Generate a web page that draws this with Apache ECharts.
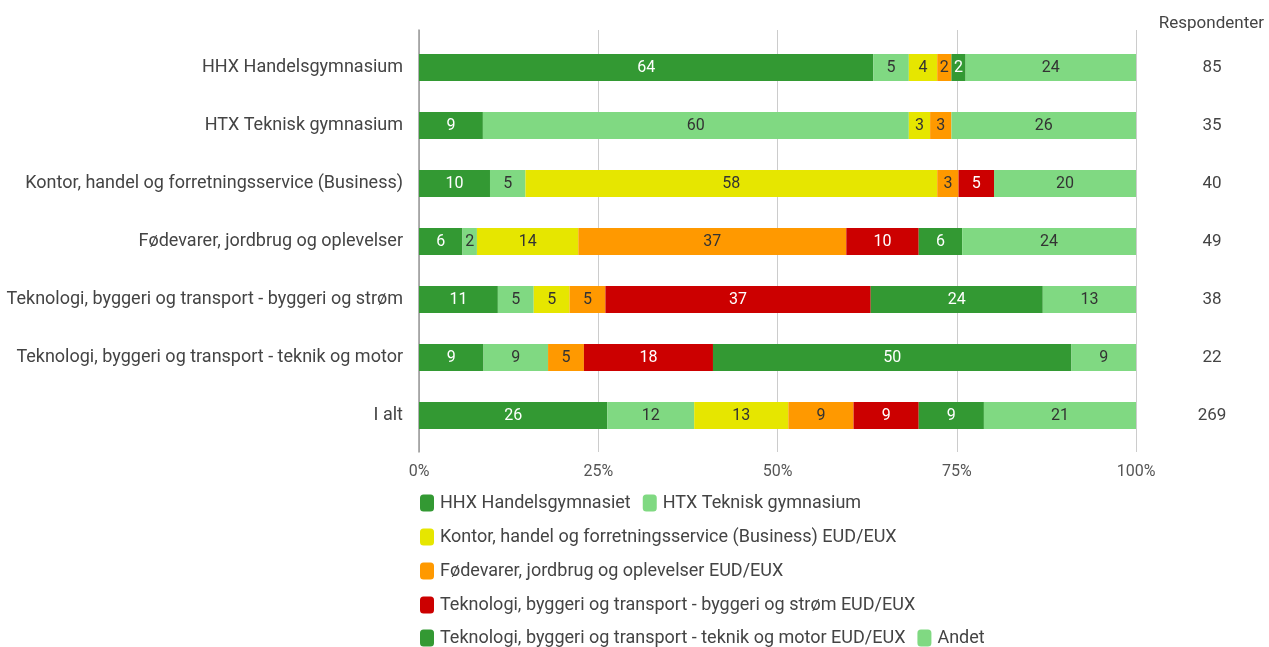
<!doctype html>
<html>
<head>
<meta charset="utf-8">
<title>Respondenter</title>
<script src="https://cdn.jsdelivr.net/npm/echarts@6/dist/echarts.min.js"></script>
<style>
  html, body { margin: 0; padding: 0; background: #fff; }
  #container { width: 1269px; height: 647px; }
</style>
</head>
<body>
<div id="container"></div>
<script>
// categories (top to bottom)
var categories = [
  'HHX Handelsgymnasium',
  'HTX Teknisk gymnasium',
  'Kontor, handel og forretningsservice (Business)',
  'Fødevarer, jordbrug og oplevelser',
  'Teknologi, byggeri og transport - byggeri og strøm',
  'Teknologi, byggeri og transport - teknik og motor',
  'I alt'
];
var respondents = [85, 35, 40, 49, 38, 22, 269];

// series values in percent, as printed on the bars
var hhx       = [64, 9, 10, 6, 11, 9, 26];
var htx       = [5, 60, 5, 2, 5, 9, 12];
var kontor    = [4, 3, 58, 14, 5, 0, 13];
var foedevare = [2, 3, 3, 37, 5, 5, 9];
var byggeri   = [0, 0, 5, 10, 37, 18, 9];
var teknik    = [2, 0, 0, 6, 24, 50, 9];
var andet     = [24, 26, 20, 24, 13, 9, 21];

var seriesNames = [
  'HHX Handelsgymnasiet',
  'HTX Teknisk gymnasium',
  'Kontor, handel og forretningsservice (Business) EUD/EUX',
  'Fødevarer, jordbrug og oplevelser EUD/EUX',
  'Teknologi, byggeri og transport - byggeri og strøm EUD/EUX',
  'Teknologi, byggeri og transport - teknik og motor EUD/EUX',
  'Andet'
];
var tickLabels = ['0%', '25%', '50%', '75%', '100%'];

var allData = [hhx, htx, kontor, foedevare, byggeri, teknik, andet];
var colors = ['#339933', '#80d982', '#e6e600', '#ff9900', '#cc0000', '#339933', '#80d982'];
var labelColors = ['#fff', '#333', '#333', '#333', '#fff', '#fff', '#333'];

// row totals so each bar fills 100%
var totals = categories.map(function(c, i) {
  var s = 0;
  allData.forEach(function(d) { s += d[i]; });
  return s;
});

var font = 'Roboto, "Noto Sans", sans-serif';

var series = allData.map(function(d, k) {
  return {
    name: seriesNames[k],
    type: 'bar',
    stack: 'total',
    xAxisIndex: 0,
    yAxisIndex: 0,
    barWidth: 27,
    itemStyle: { color: colors[k] },
    label: {
      show: true,
      position: 'inside',
      fontFamily: font,
      fontSize: 16,
      color: labelColors[k],
      formatter: function(p) { return d[p.dataIndex]; }
    },
    data: d.map(function(v, i) { return v ? v / totals[i] * 100 : null; })
  };
});

function legendRow(names, top) {
  return {
    data: names,
    left: 420,
    top: top,
    padding: 0,
    itemWidth: 14,
    itemHeight: 17,
    itemGap: 12,
    icon: 'roundRect',
    selectedMode: false,
    textStyle: { fontFamily: font, fontSize: 18, color: '#444', padding: [0, 0, 0, 1] }
  };
}

var option = {
  animation: false,
  textStyle: { fontFamily: font },
  title: {
    text: 'Respondenter',
    right: 0,
    top: 10,
    textStyle: { fontFamily: font, fontSize: 17, fontWeight: 'normal', color: '#444' }
  },
  legend: [
    legendRow([seriesNames[0], seriesNames[1]], 494),
    legendRow([seriesNames[2]], 528),
    legendRow([seriesNames[3]], 562),
    legendRow([seriesNames[4]], 596),
    legendRow([seriesNames[5], seriesNames[6]], 629)
  ],
  grid: [
    { left: 419, width: 717, top: 38.5, height: 406, containLabel: false },
    { left: 419, width: 717, top: 30, height: 422, containLabel: false }
  ],
  xAxis: [
    { type: 'value', gridIndex: 0, min: 0, max: 100, show: false },
    {
      type: 'value', gridIndex: 1, min: 0, max: 100, interval: 25,
      axisLine: { show: false }, axisTick: { show: false },
      splitLine: { show: true, lineStyle: { color: '#cccccc', width: 1 } },
      axisLabel: {
        margin: 12, fontFamily: font, fontSize: 16, color: '#555',
        formatter: function(v) { return tickLabels[v / 25]; }
      }
    }
  ],
  yAxis: [
    {
      type: 'category', gridIndex: 0, inverse: true, data: categories,
      axisLine: { show: false }, axisTick: { show: false },
      axisLabel: { margin: 16, fontFamily: font, fontSize: 18, color: '#444' }
    },
    {
      type: 'value', gridIndex: 1, min: 0, max: 1,
      axisLine: { show: true, lineStyle: { color: '#999', width: 1.5 } },
      axisTick: { show: false }, axisLabel: { show: false }, splitLine: { show: false }
    },
    {
      type: 'category', gridIndex: 0, inverse: true, position: 'right',
      data: respondents,
      axisLine: { show: false }, axisTick: { show: false },
      axisLabel: { margin: 76, align: 'center', fontFamily: font, fontSize: 17, color: '#444' }
    }
  ],
  series: series
};

var myChart = echarts.init(document.getElementById('container'));
myChart.setOption(option);
</script>
</body>
</html>
